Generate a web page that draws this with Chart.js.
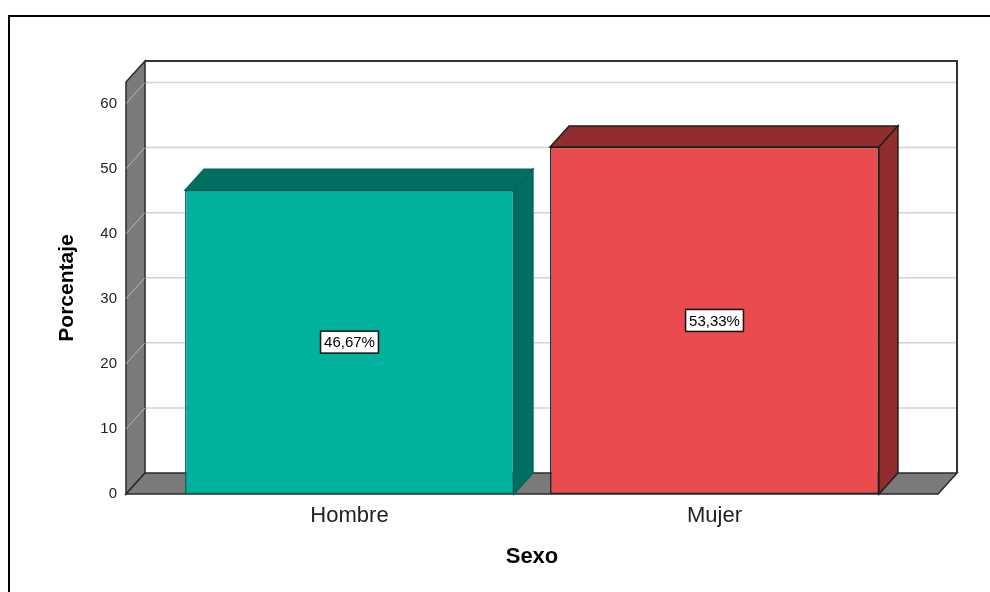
<!DOCTYPE html>
<html>
<head>
<meta charset="utf-8">
<script src="https://cdn.jsdelivr.net/npm/chart.js@4.4.1/dist/chart.umd.min.js"></script>
<style>
    html, body { margin: 0; padding: 0; background: #fff; overflow: hidden; }
    #frame { position: absolute; left: 8px; top: 15px; width: 1000px; height: 600px; border: 2px solid #000; }
    #wrap { position: absolute; left: 0; top: 0; width: 990px; height: 592px; }
</style>
</head>
<body>
<div id="frame"></div>
<div id="wrap"><canvas id="chart" width="990" height="592"></canvas></div>
<script>
let categories = ["Hombre", "Mujer"];
let percentages = [46.67, 53.33];

let frontColors = ["#00b19d", "#ea4b4e"];
let sideColors = ["#006f61", "#922d2f"];
let edgeColors = ["#00675a", "#1e1e1e"];

const FONT = "'Liberation Sans', Arial, sans-serif";
const DX = 19;
const DY = 21;

function poly(ctx, pts) {
    ctx.beginPath();
    ctx.moveTo(pts[0][0], pts[0][1]);
    for (let i = 1; i < pts.length; i++) ctx.lineTo(pts[i][0], pts[i][1]);
    ctx.closePath();
}

// walls, floor and grid lines of the 3D box
const boxPlugin = {
    id: "box3d",
    beforeDatasetsDraw(chart) {
        let ctx = chart.ctx;
        let a = chart.chartArea;
        let yScale = chart.scales.y;
        ctx.save();

        // grid lines on the back wall
        ctx.strokeStyle = "#d3d3d3";
        ctx.lineWidth = 1.5;
        yScale.ticks.forEach(t => {
            if (t.value === 0) return;
            let py = yScale.getPixelForValue(t.value);
            ctx.beginPath();
            ctx.moveTo(a.left + DX, py - DY);
            ctx.lineTo(a.right + DX, py - DY);
            ctx.stroke();
        });

        // left wall
        ctx.fillStyle = "#7a7a7a";
        ctx.strokeStyle = "#2a2a2a";
        ctx.lineWidth = 1.5;
        poly(ctx, [[a.left, a.top], [a.left + DX, a.top - DY], [a.left + DX, a.bottom - DY], [a.left, a.bottom]]);
        ctx.fill();
        ctx.stroke();

        // grid lines across the left wall
        ctx.strokeStyle = "#b8b8b8";
        ctx.lineWidth = 1;
        yScale.ticks.forEach(t => {
            if (t.value === 0) return;
            let py = yScale.getPixelForValue(t.value);
            ctx.beginPath();
            ctx.moveTo(a.left, py);
            ctx.lineTo(a.left + DX, py - DY);
            ctx.stroke();
        });

        // floor
        ctx.fillStyle = "#7a7a7a";
        ctx.strokeStyle = "#2a2a2a";
        ctx.lineWidth = 1.5;
        poly(ctx, [[a.left, a.bottom], [a.left + DX, a.bottom - DY], [a.right + DX, a.bottom - DY], [a.right, a.bottom]]);
        ctx.fill();
        ctx.stroke();

        // back wall top and right edges
        ctx.strokeStyle = "#333";
        ctx.lineWidth = 2;
        ctx.beginPath();
        ctx.moveTo(a.left + DX, a.top - DY);
        ctx.lineTo(a.right + DX, a.top - DY);
        ctx.lineTo(a.right + DX, a.bottom - DY);
        ctx.stroke();

        ctx.restore();
    },
    afterDatasetsDraw(chart) {
        let ctx = chart.ctx;
        let meta = chart.getDatasetMeta(0);
        ctx.save();
        meta.data.forEach((bar, i) => {
            let p = bar.getProps(["x", "y", "base", "width"], true);
            let l = p.x - p.width / 2;
            let r = p.x + p.width / 2;

            ctx.fillStyle = sideColors[i];
            ctx.strokeStyle = edgeColors[i];
            ctx.lineWidth = 1.5;
            // top face
            poly(ctx, [[l, p.y], [l + DX, p.y - DY], [r + DX, p.y - DY], [r, p.y]]);
            ctx.fill();
            ctx.stroke();
            // side face
            poly(ctx, [[r, p.y], [r + DX, p.y - DY], [r + DX, p.base - DY], [r, p.base]]);
            ctx.fill();
            ctx.stroke();

            // value label
            let text = percentages[i].toFixed(2).replace(".", ",") + "%";
            ctx.font = "15px " + FONT;
            let tw = ctx.measureText(text).width;
            let cy = (p.y + p.base) / 2;
            let bw = tw + 7;
            let bh = 22;
            ctx.fillStyle = "#fff";
            ctx.fillRect(p.x - bw / 2, cy - bh / 2, bw, bh);
            ctx.strokeStyle = "#111";
            ctx.lineWidth = 1.5;
            ctx.strokeRect(p.x - bw / 2, cy - bh / 2, bw, bh);
            ctx.fillStyle = "#000";
            ctx.textAlign = "center";
            ctx.textBaseline = "middle";
            ctx.fillText(text, p.x, cy + 1);
        });
        ctx.restore();
    }
};

new Chart(document.getElementById("chart"), {
    type: "bar",
    data: {
        datasets: [{
            data: percentages.map((v, i) => ({ x: i, y: v })),
            backgroundColor: frontColors,
            borderColor: edgeColors,
            borderWidth: 1.5,
            borderSkipped: false,
            barPercentage: 0.901,
            categoryPercentage: 1
        }]
    },
    options: {
        responsive: false,
        animation: false,
        devicePixelRatio: 1,
        layout: { padding: { top: 82, right: 52, left: 0, bottom: 0 } },
        plugins: {
            legend: { display: false },
            tooltip: { enabled: false }
        },
        scales: {
            x: {
                type: "linear",
                offset: false,
                min: -0.6123,
                max: 1.6123,
                grid: { display: false, drawTicks: false },
                border: { display: false },
                ticks: {
                    stepSize: 1,
                    includeBounds: false,
                    padding: 9,
                    color: "#222",
                    font: { family: FONT, size: 22 },
                    callback: v => categories[v] !== undefined ? categories[v] : ""
                },
                title: {
                    display: true,
                    text: "Sexo",
                    color: "#000",
                    font: { family: FONT, size: 22, weight: "bold" },
                    padding: { top: 0, bottom: 22 }
                },
                afterFit: s => { s.height = 98; }
            },
            y: {
                min: 0,
                max: 63.3,
                grid: { display: false, drawTicks: false },
                border: { display: false },
                ticks: {
                    stepSize: 10,
                    includeBounds: false,
                    padding: 9,
                    color: "#222",
                    font: { family: FONT, size: 15 }
                },
                title: {
                    display: true,
                    text: "Porcentaje",
                    color: "#000",
                    font: { family: FONT, size: 21, weight: "bold" },
                    padding: { top: 55, bottom: 0 }
                },
                afterFit: s => { s.width = 126; }
            }
        }
    },
    plugins: [boxPlugin]
});
</script>
</body>
</html>
